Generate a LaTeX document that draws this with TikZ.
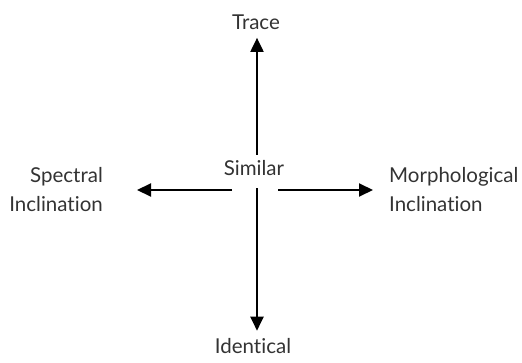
\documentclass[tikz,border=0pt]{standalone}
\usepackage{fontspec}
\setmainfont{Lato}[Ligatures={NoCommon}]
\usetikzlibrary{arrows.meta}
\tikzset{
  lbl/.style={inner sep=0pt, font=\fontsize{20.5}{28}\selectfont, text=black!80},
  arr/.style={line width=2pt, -{Triangle[length=14pt,width=13pt]}},
}
\begin{document}
\begin{tikzpicture}[x=1pt,y=1pt]
\useasboundingbox (0,0) rectangle (522,362);
\coordinate (c) at (257,172);
\node[lbl, anchor=base] (tra) at (256,332) {Trace};
\node[lbl, anchor=base] (sim) at (254,186) {Similar};
\node[lbl, anchor=base] (ide) at (253,9) {Identical};
\node[lbl, anchor=base east, align=right] (spe) at (103,151) {Spectral\\Inclination};
\node[lbl, anchor=base west, align=left] (mor) at (389,151) {Morphological\\Inclination};
\draw[arr, shorten <=35pt, shorten >=7.5pt] (c) -- (c |- tra.south);
\draw[arr, shorten <=-2pt, shorten >=7pt] (c) -- (c |- ide.north);
\draw[arr, shorten <=25pt, shorten >=34pt] (c) -- (spe.east |- c);
\draw[arr, shorten <=21pt, shorten >=16pt] (c) -- (mor.west |- c);
\end{tikzpicture}
\end{document}
